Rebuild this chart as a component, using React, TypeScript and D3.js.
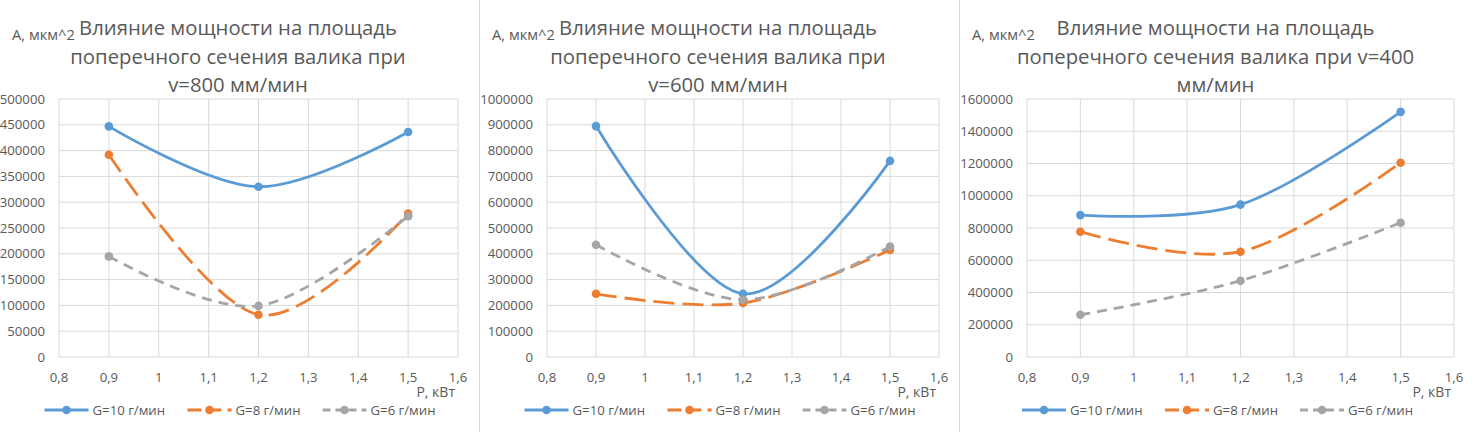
import React from 'react'
import * as d3 from 'd3'

const powerKw = [0.9, 1.2, 1.5]
const xTicks = [0.8, 0.9, 1.0, 1.1, 1.2, 1.3, 1.4, 1.5, 1.6]
const seriesNames = ['G=10 г/мин', 'G=8 г/мин', 'G=6 г/мин']

const v800G10 = [447000, 330000, 436000]
const v800G8 = [392000, 82000, 278000]
const v800G6 = [195000, 99000, 273000]

const v600G10 = [895000, 245000, 760000]
const v600G8 = [245000, 209000, 415000]
const v600G6 = [435000, 222000, 428000]

const v400G10 = [880000, 945000, 1520000]
const v400G8 = [777000, 653000, 1205000]
const v400G6 = [262000, 473000, 833000]

const titles800 = ['Влияние мощности на площадь', 'поперечного сечения валика при', 'v=800 мм/мин']
const titles600 = ['Влияние мощности на площадь', 'поперечного сечения валика при', 'v=600 мм/мин']
const titles400 = ['Влияние мощности на площадь', 'поперечного сечения валика при v=400', 'мм/мин']

const yMaxes = [500000, 1000000, 1600000]
const ySteps = [50000, 100000, 200000]

const COLORS = ['#5b9bd5', '#ed7d31', '#a5a5a5']
const DASHES = ['none', '21 8', '10 7']
const LEGEND_DASHES = ['none', '14 6', '8 5']
const FONT = '"Open Sans", "Noto Sans", sans-serif'
const TEXT = '#595959'
const GRID = '#d9d9d9'

interface PanelProps {
  x0: number
  width: number
  plotLeft: number
  plotRight: number
  title: string[]
  series: number[][]
  yMax: number
  yStep: number
}

const fmtX = (v: number) => d3.format('~g')(+v.toFixed(1)).replace('.', ',')

const Panel: React.FC<PanelProps> = ({ x0, width, plotLeft, plotRight, title, series, yMax, yStep }) => {
  const top = 99
  const bottom = 357
  const x = d3.scaleLinear().domain([0.8, 1.6]).range([plotLeft, plotRight])
  const y = d3.scaleLinear().domain([0, yMax]).range([bottom, top])
  const yTicks = d3.range(0, yMax + 1, yStep)
  const line = d3.line<number>()
    .x((_, i) => x(powerKw[i]))
    .y(d => y(d))
    .curve(d3.curveCatmullRom.alpha(0))
  const cx = x0 + width / 2 - 1.5
  const legendOffsets = [0, 143, 278]
  const legendStart = x0 + width / 2 + 5 - 200

  return (
    <g>
      {/* заголовок */}
      {title.map((t, i) => (
        <text key={i} x={cx} y={28 + i * 28.5} dy="0.35em" textAnchor="middle"
          fontSize={20.3} fill={TEXT}>{t}</text>
      ))}
      <text x={x0 + 12} y={35} dy="0.35em" fontSize={14.7} fill={TEXT}>A, мкм^2</text>

      {/* сетка */}
      {yTicks.map(t => (
        <line key={'h' + t} x1={plotLeft} x2={plotRight} y1={y(t)} y2={y(t)} stroke={GRID} strokeWidth={1} />
      ))}
      {xTicks.map(t => (
        <line key={'v' + t} x1={x(t)} x2={x(t)} y1={top} y2={bottom} stroke={GRID} strokeWidth={1} />
      ))}

      {/* подписи осей */}
      {yTicks.map(t => (
        <text key={'yl' + t} x={plotLeft - 14} y={y(t)} dy="0.35em" textAnchor="end"
          fontSize={13.2} fill={TEXT}>{t}</text>
      ))}
      {xTicks.map(t => (
        <text key={'xl' + t} x={x(t)} y={377} dy="0.35em" textAnchor="middle"
          fontSize={13.2} fill={TEXT}>{fmtX(t)}</text>
      ))}
      <text x={plotRight - 3} y={392} dy="0.35em" textAnchor="end" fontSize={14} fill={TEXT}>P, кВт</text>

      {/* серии */}
      {series.map((s, si) => (
        <g key={'s' + si}>
          <path d={line(s) || ''} fill="none" stroke={COLORS[si]} strokeWidth={2.8}
            strokeDasharray={DASHES[si]} strokeLinecap="butt" />
          {s.map((v, i) => (
            <circle key={i} cx={x(powerKw[i])} cy={y(v)} r={4.3} fill={COLORS[si]} />
          ))}
        </g>
      ))}

      {/* легенда */}
      {seriesNames.map((name, si) => {
        const lx = legendStart + legendOffsets[si]
        return (
          <g key={'lg' + si}>
            <line x1={lx} x2={lx + 44} y1={410} y2={410} stroke={COLORS[si]} strokeWidth={2.8}
              strokeDasharray={LEGEND_DASHES[si]} />
            <circle cx={lx + 22} cy={410} r={4.3} fill={COLORS[si]} />
            <text x={lx + 48} y={410} dy="0.35em" fontSize={13.2} fill={TEXT}>{name}</text>
          </g>
        )
      })}
    </g>
  )
}

export default function App() {
  return (
    <svg width={1474} height={432} style={{ position: 'absolute', left: 0, top: 0, background: '#fff' }}
      fontFamily={FONT}>
      <rect x={0} y={0} width={1474} height={432} fill="#fff" />
      <line x1={479.5} x2={479.5} y1={0} y2={432} stroke={GRID} />
      <line x1={959.5} x2={959.5} y1={0} y2={432} stroke={GRID} />
      <Panel x0={0} width={479} plotLeft={59} plotRight={458} title={titles800}
        series={[v800G10, v800G8, v800G6]} yMax={yMaxes[0]} yStep={ySteps[0]} />
      <Panel x0={480} width={479} plotLeft={547} plotRight={939} title={titles600}
        series={[v600G10, v600G8, v600G6]} yMax={yMaxes[1]} yStep={ySteps[1]} />
      <Panel x0={960} width={514} plotLeft={1027} plotRight={1454} title={titles400}
        series={[v400G10, v400G8, v400G6]} yMax={yMaxes[2]} yStep={ySteps[2]} />
    </svg>
  )
}
